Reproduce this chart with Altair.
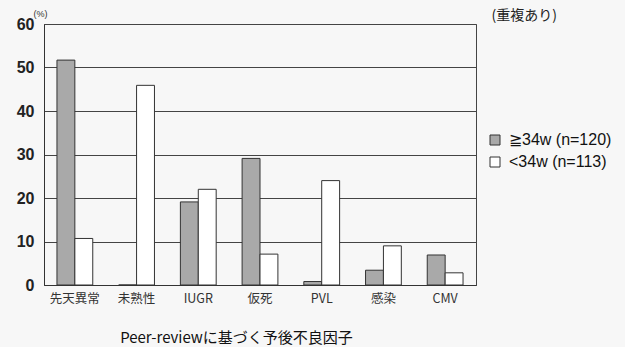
import altair as alt
import pandas as pd

categories = ["先天異常", "未熟性", "IUGR", "仮死", "PVL", "感染", "CMV"]
series_names = ["≧34w (n=120)", "<34w (n=113)"]
ge34_values = [51.7, 0.0, 19.1, 29.1, 0.8, 3.4, 6.9]
lt34_values = [10.7, 45.9, 22.0, 7.1, 24.0, 9.0, 2.8]
y_ticks = [0, 10, 20, 30, 40, 50, 60]

rows = []
for c, a, b in zip(categories, ge34_values, lt34_values):
    rows.append({"cat": c, "group": series_names[0], "value": a})
    rows.append({"cat": c, "group": series_names[1], "value": b})
df = pd.DataFrame(rows)

FONT = "Noto Sans CJK JP"

chart = alt.Chart(df).mark_bar(stroke="#333333", strokeWidth=1).encode(
    x=alt.X("cat:N", sort=categories,
            scale=alt.Scale(paddingInner=0.42, paddingOuter=0.21),
            axis=alt.Axis(title="Peer-reviewに基づく予後不良因子", labelAngle=0,
                          ticks=False, labelPadding=7, labelFontSize=12.5,
                          labelColor="#333333", labelFont=FONT,
                          domainColor="#333333",
                          titleFont=FONT, titleFontSize=15, titleFontWeight="normal",
                          titleColor="#111111", titleX=192, titleY=52,
                          titleAnchor="middle", titleAlign="center",
                          titleBaseline="middle")),
    xOffset=alt.XOffset("group:N", sort=series_names),
    y=alt.Y("value:Q", scale=alt.Scale(domain=[0, 60], nice=False),
            axis=alt.Axis(values=y_ticks, ticks=False, labelPadding=10,
                          labelFontSize=16, labelFontWeight="bold",
                          labelColor="#222222", labelFont="Liberation Sans",
                          domainColor="#333333", grid=True,
                          gridColor="#444444", gridWidth=1,
                          title="(%)", titleAngle=0, titleX=-4, titleY=-11,
                          titleAlign="center", titleBaseline="middle",
                          titleFontSize=9, titleFontWeight="normal",
                          titleColor="#333333")),
    fill=alt.Fill("group:N", sort=series_names,
                  scale=alt.Scale(domain=series_names, range=["#a9a9a9", "#ffffff"]),
                  legend=alt.Legend(title=None, orient="none", legendX=443, legendY=108,
                                    symbolType="square", symbolSize=100,
                                    symbolStrokeColor="#333333", symbolStrokeWidth=1,
                                    labelFontSize=16, labelColor="#111111",
                                    labelFont="Liberation Sans",
                                    labelOffset=6, rowPadding=6)),
).properties(
    width=432, height=261,
    title=alt.TitleParams("(重複あり)", anchor="end", orient="top", frame="group",
                          dx=81, dy=17, offset=3, fontSize=14, fontWeight="normal",
                          font=FONT, color="#222222"),
    background="#f7f7f7",
    padding={"left": 44, "top": 24, "right": 149, "bottom": 62},
    autosize=alt.AutoSizeParams(type="none"),
).configure_view(stroke="#444444", strokeWidth=1)

chart.save("out.html", embed_options={"renderer": "svg", "actions": False})
